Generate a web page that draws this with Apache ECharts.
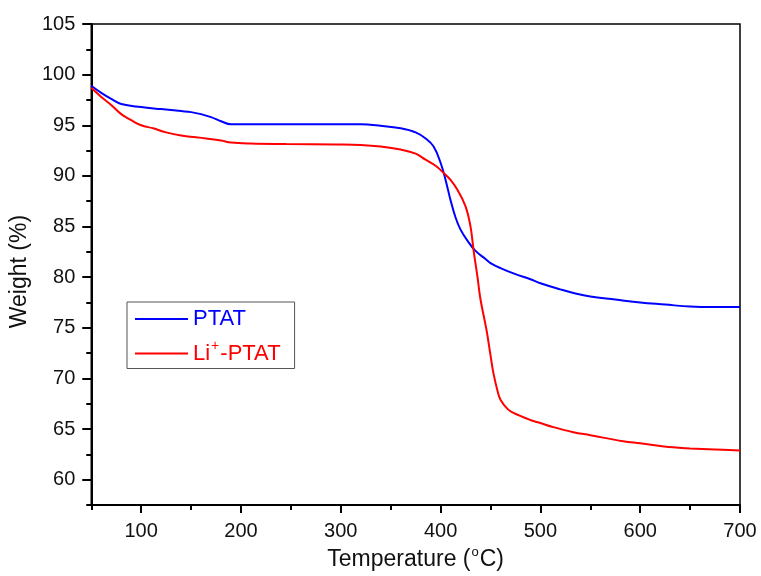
<!DOCTYPE html>
<html>
<head>
<meta charset="utf-8">
<script src="https://cdn.jsdelivr.net/npm/echarts@6/dist/echarts.min.js"></script>
<style>
  html, body { margin: 0; padding: 0; background: #fff; }
  #main { width: 761px; height: 576px; }
</style>
</head>
<body>
<div id="main"></div>
<script>
// temperature (°C) and weight (%)
var tempPTAT = [50, 60, 70, 80, 100, 120, 140, 150, 160, 170, 180, 190, 200, 250, 300, 320, 340, 360, 375, 385, 393, 400, 405, 410, 415, 420, 427, 435, 445, 450, 460, 475, 490, 500, 520, 535, 550, 575, 600, 625, 650, 675, 700];
var weightPTAT = [98.9, 98.2, 97.6, 97.1, 96.8, 96.6, 96.4, 96.3, 96.1, 95.8, 95.4, 95.1, 95.1, 95.1, 95.1, 95.1, 94.95, 94.7, 94.3, 93.7, 92.9, 91.3, 89.6, 87.6, 85.9, 84.7, 83.6, 82.6, 81.8, 81.4, 80.9, 80.3, 79.8, 79.4, 78.8, 78.4, 78.1, 77.8, 77.5, 77.3, 77.1, 77.05, 77.05];

var tempLi = [50, 60, 70, 80, 90, 100, 112, 125, 140, 165, 180, 190, 210, 245, 295, 320, 340, 360, 375, 385, 395, 403, 410, 417, 425, 430, 433, 437, 440, 446, 450, 453, 457, 460, 467, 473, 490, 500, 513, 533, 550, 583, 600, 633, 650, 675, 700];
var weightLi = [98.7, 97.8, 97.0, 96.1, 95.5, 95.0, 94.7, 94.3, 94.0, 93.7, 93.5, 93.3, 93.2, 93.15, 93.1, 93.05, 92.9, 92.6, 92.2, 91.6, 91.0, 90.3, 89.6, 88.6, 87.0, 85.0, 82.7, 80.0, 77.8, 74.8, 72.3, 70.5, 68.8, 67.9, 67.0, 66.6, 65.9, 65.6, 65.2, 64.7, 64.4, 63.8, 63.6, 63.2, 63.1, 63.0, 62.9];

// tick positions
var xTicks = [100, 200, 300, 400, 500, 600, 700];
var xMinorTicks = [50, 150, 250, 350, 450, 550, 650];
var yTicks = [60, 65, 70, 75, 80, 85, 90, 95, 100, 105];
var yMinorTicks = [57.5, 62.5, 67.5, 72.5, 77.5, 82.5, 87.5, 92.5, 97.5, 102.5];

function pairs(xs, ys) {
    var out = [];
    for (var i = 0; i < xs.length; i++) out.push([xs[i], ys[i]]);
    return out;
}

var font = '"Liberation Sans", Arial, sans-serif';
var axisColor = '#000';
var chart = echarts.init(document.getElementById('main'));

var option = {
    backgroundColor: '#fff',
    animation: false,
    grid: {
        left: 89, right: 21, top: 24, bottom: 70,
        show: true, borderColor: axisColor, borderWidth: 1.5
    },
    legend: {
        left: 127, top: 302,
        orient: 'vertical',
        borderColor: '#555', borderWidth: 1,
        padding: [6, 14, 4, 8],
        itemGap: 9,
        icon: 'rect',
        itemWidth: 53, itemHeight: 2,
        textStyle: {
            fontFamily: font, fontSize: 22,
            rich: {
                sup: { fontFamily: font, fontSize: 14, verticalAlign: 'top', padding: [0, 1, 15, 1] }
            }
        },
        data: [
            { name: 'PTAT', textStyle: { color: '#0000ff' } },
            { name: 'Li+-PTAT', textStyle: { color: '#ff0000' } }
        ],
        formatter: function (name) {
            if (name === 'Li+-PTAT') return 'Li{sup|+}-PTAT';
            return name;
        }
    },
    xAxis: [{
        type: 'value',
        min: 50, max: 700,
        name: 'Temperature ({s|o}C)',
        nameLocation: 'middle',
        nameGap: 40,
        nameTextStyle: {
            fontFamily: font, fontSize: 23, color: '#111',
            rich: { s: { fontFamily: font, fontSize: 13, padding: [0, 1, 14, 1] } }
        },
        axisLine: { lineStyle: { color: axisColor, width: 2 } },
        axisTick: { customValues: xTicks, inside: false, length: 8, lineStyle: { color: axisColor, width: 2 } },
        axisLabel: { customValues: xTicks, margin: 16, fontFamily: font, fontSize: 20, color: '#111' },
        splitLine: { show: false }
    }, {
        type: 'value',
        min: 50, max: 700,
        position: 'bottom',
        axisLine: { show: false },
        axisTick: { customValues: xMinorTicks, inside: false, length: 5, lineStyle: { color: axisColor, width: 2 } },
        axisLabel: { show: false },
        splitLine: { show: false }
    }],
    yAxis: [{
        type: 'value',
        min: 57.5, max: 105,
        name: 'Weight (%)',
        nameLocation: 'middle',
        nameGap: 59,
        nameTextStyle: { fontFamily: font, fontSize: 23, color: '#111', padding: [0, 14, 0, 0] },
        axisLine: { lineStyle: { color: axisColor, width: 2 } },
        axisTick: { customValues: yTicks, inside: false, length: 9, lineStyle: { color: axisColor, width: 2 } },
        axisLabel: { customValues: yTicks, margin: 16, fontFamily: font, fontSize: 20, color: '#111' },
        splitLine: { show: false }
    }, {
        type: 'value',
        min: 57.5, max: 105,
        position: 'left',
        offset: 0,
        axisLine: { show: false },
        axisTick: { customValues: yMinorTicks, inside: false, length: 5, lineStyle: { color: axisColor, width: 2 } },
        axisLabel: { show: false },
        splitLine: { show: false }
    }],
    series: [
        {
            name: 'PTAT', type: 'line',
            data: pairs(tempPTAT, weightPTAT),
            symbol: 'none', smooth: 0.4,
            lineStyle: { color: '#0000ff', width: 2 },
            itemStyle: { color: '#0000ff' }
        },
        {
            name: 'Li+-PTAT', type: 'line',
            data: pairs(tempLi, weightLi),
            symbol: 'none', smooth: 0.4,
            lineStyle: { color: '#ff0000', width: 2 },
            itemStyle: { color: '#ff0000' }
        }
    ]
};
chart.setOption(option);
</script>
</body>
</html>
